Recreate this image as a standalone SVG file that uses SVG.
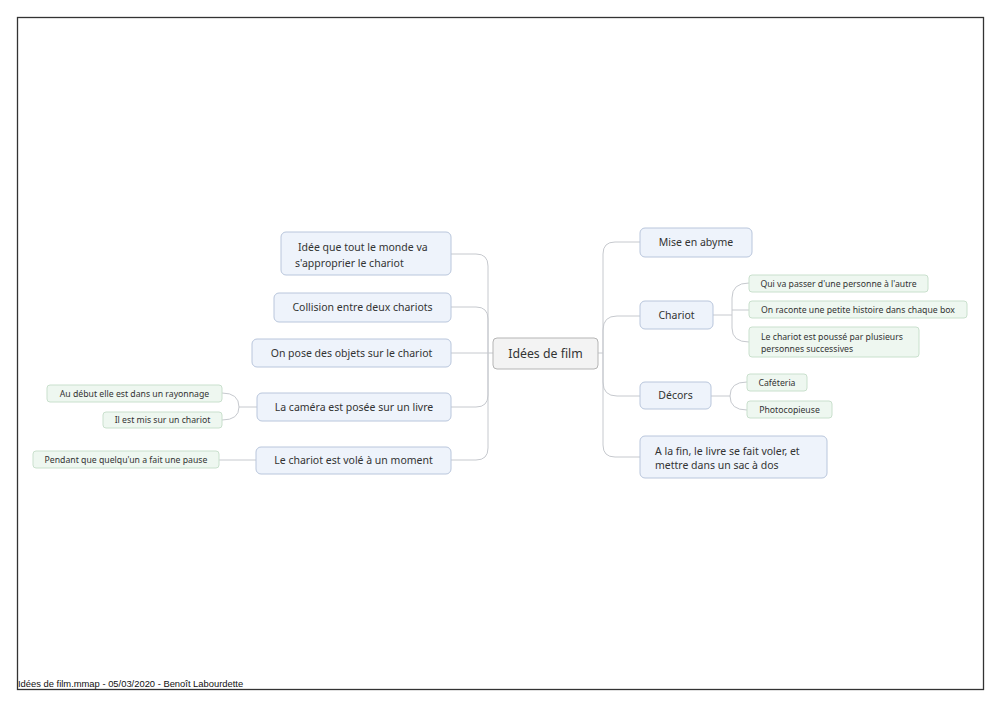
<svg xmlns="http://www.w3.org/2000/svg" width="1000" height="707" viewBox="0 0 1000 707">
<style>
.frame{fill:#fff;stroke:#333;stroke-width:1.3}
.main{fill:#eef3fb;stroke:#b9c6dc;stroke-width:1}
.sub{fill:#eef7f0;stroke:#c9e0cd;stroke-width:1}
.root{fill:#f3f3f3;stroke:#b5b5b5;stroke-width:1}
.c{fill:none;stroke:#c6c9ce;stroke-width:1}
text{font-family:"Noto Sans","Open Sans",sans-serif;fill:#333}
.tm{font-size:10.5px}
.ts{font-size:8.7px}
.tr{font-size:12.3px}
.ft{font-family:"Liberation Sans",Arial,sans-serif;font-size:9.4px;fill:#111}
</style>
<rect width="1000" height="707" fill="#fff"/>
<rect class="frame" x="17.5" y="17.5" width="966" height="672"/>
<text class="ft" x="18" y="687">Idées de film.mmap - 05/03/2020 - Benoît Labourdette</text>
<g id="connectors">
<path class="c" d="M493,353 H488"/>
<path class="c" d="M451,254 H476 Q488,254 488,266 V448 Q488,460 476,460 H451"/>
<path class="c" d="M451,307 H476 Q488,307 488,319 V395 Q488,407 476,407 H451"/>
<path class="c" d="M451,353 H488"/>
<path class="c" d="M598,353 H603"/>
<path class="c" d="M640,242 H615 Q603,242 603,254 V445 Q603,457 615,457 H640"/>
<path class="c" d="M640,316 H617 Q603,316 603,330 V382 Q603,396 617,396 H640"/>
<path class="c" d="M713,315 H732"/>
<path class="c" d="M749,283 Q732,283 732,298 V328 Q732,342 749,342"/>
<path class="c" d="M732,310 H749"/>
<path class="c" d="M711,396 H730"/>
<path class="c" d="M747,382 Q730,382 730,396 Q730,410 747,410"/>
<path class="c" d="M257,407 H239"/>
<path class="c" d="M222,393 Q239,393 239,407 Q239,420 222,420"/>
<path class="c" d="M256,460 H219"/>
</g>
<g id="root">
<rect class="root" x="493" y="338" width="105" height="31" rx="4"/>
<text class="tr" x="545.5" y="357.5" text-anchor="middle">Idées de film</text>
</g>
<g id="n-idee">
<rect class="main" x="281" y="232" width="170" height="43" rx="5"/>
<text class="tm" x="298" y="250.5">Idée que tout le monde va</text>
<text class="tm" x="295" y="266.5">s'approprier le chariot</text>
</g>
<g id="n-collision">
<rect class="main" x="274" y="293" width="177" height="29" rx="5"/>
<text class="tm" x="362.5" y="311" text-anchor="middle">Collision entre deux chariots</text>
</g>
<g id="n-objets">
<rect class="main" x="252" y="339" width="199" height="28" rx="5"/>
<text class="tm" x="351.5" y="356.5" text-anchor="middle">On pose des objets sur le chariot</text>
</g>
<g id="n-camera">
<rect class="main" x="257" y="393" width="194" height="28" rx="5"/>
<text class="tm" x="354" y="410.5" text-anchor="middle">La caméra est posée sur un livre</text>
</g>
<g id="n-vole">
<rect class="main" x="256" y="447" width="195" height="27" rx="5"/>
<text class="tm" x="353.5" y="464" text-anchor="middle">Le chariot est volé à un moment</text>
</g>
<g id="s-rayonnage">
<rect class="sub" x="47" y="385" width="175" height="17" rx="3"/>
<text class="ts" x="134.5" y="396.8" text-anchor="middle">Au début elle est dans un rayonnage</text>
</g>
<g id="s-mis">
<rect class="sub" x="103" y="412" width="119" height="16" rx="3"/>
<text class="ts" x="162.5" y="423.3" text-anchor="middle">Il est mis sur un chariot</text>
</g>
<g id="s-pause">
<rect class="sub" x="33" y="451" width="186" height="17" rx="3"/>
<text class="ts" x="126" y="462.8" text-anchor="middle">Pendant que quelqu'un a fait une pause</text>
</g>
<g id="n-abyme">
<rect class="main" x="640" y="228" width="112" height="29" rx="5"/>
<text class="tm" x="696" y="246" text-anchor="middle">Mise en abyme</text>
</g>
<g id="n-chariot">
<rect class="main" x="640" y="301" width="73" height="28" rx="5"/>
<text class="tm" x="676.5" y="318.5" text-anchor="middle">Chariot</text>
</g>
<g id="s-passer">
<rect class="sub" x="749" y="275" width="179" height="17" rx="3"/>
<text class="ts" x="838.5" y="286.8" text-anchor="middle">Qui va passer d'une personne à l'autre</text>
</g>
<g id="s-histoire">
<rect class="sub" x="749" y="301" width="218" height="17" rx="3"/>
<text class="ts" x="858" y="312.8" text-anchor="middle">On raconte une petite histoire dans chaque box</text>
</g>
<g id="s-pousse">
<rect class="sub" x="749" y="327" width="170" height="30" rx="3"/>
<text class="ts" x="761" y="340">Le chariot est poussé par plusieurs</text>
<text class="ts" x="761" y="352">personnes successives</text>
</g>
<g id="n-decors">
<rect class="main" x="640" y="382" width="71" height="27" rx="5"/>
<text class="tm" x="675.5" y="399" text-anchor="middle">Décors</text>
</g>
<g id="s-cafeteria">
<rect class="sub" x="747" y="374" width="60" height="17" rx="3"/>
<text class="ts" x="777" y="385.8" text-anchor="middle">Caféteria</text>
</g>
<g id="s-photocopieuse">
<rect class="sub" x="747" y="401" width="85" height="17" rx="3"/>
<text class="ts" x="789.5" y="412.8" text-anchor="middle">Photocopieuse</text>
</g>
<g id="n-fin">
<rect class="main" x="640" y="436" width="187" height="42" rx="5"/>
<text class="tm" x="655" y="454.5">A la fin, le livre se fait voler, et</text>
<text class="tm" x="655" y="469">mettre dans un sac à dos</text>
</g>
</svg>
